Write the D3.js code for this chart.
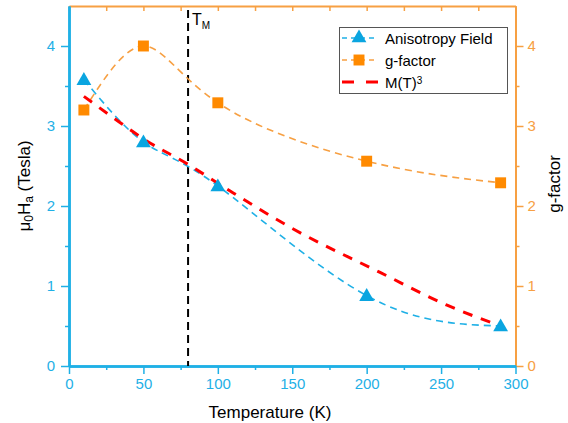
<!DOCTYPE html>
<html>
<head>
<meta charset="utf-8">
<script src="https://cdn.jsdelivr.net/npm/d3@7"></script>
<style>
  html, body { margin: 0; padding: 0; background: #fff; }
  text { font-family: "Liberation Sans", Arial, sans-serif; }
</style>
</head>
<body>
<svg id="chart" width="568" height="423"></svg>
<script>
// Measured data
const temps = [10, 50, 100, 200, 290];
const anisotropyField = [3.58, 2.80, 2.25, 0.88, 0.50];
const gFactor = [3.20, 4.00, 3.29, 2.56, 2.29];

// M(T)^3 curve, scaled to the field axis
const mTemps = [10, 30, 50, 80, 108, 150, 209, 254, 290];
const mCubed = [3.37, 3.10, 2.84, 2.52, 2.19, 1.72, 1.17, 0.76, 0.50];

const transitionTemp = 80;
const xTicks = [0, 50, 100, 150, 200, 250, 300];
const yTicks = [0, 1, 2, 3, 4];

const blue = "#1fb0e6";
const orange = "#f7a043";
const orangeMarker = "#ff8a00";
const red = "#ff0000";

const svg = d3.select("#chart");
const pLeft = 69, pRight = 515.5, pTop = 6, pBottom = 366;

const x = d3.scaleLinear().domain([0, 300]).range([pLeft, pRight]);
const yL = d3.scaleLinear().domain([0, 4.5]).range([pBottom, pTop]);
const yR = d3.scaleLinear().domain([0, 4.5]).range([pBottom, pTop]);

function styleAxis(g, color, width) {
  g.select(".domain").attr("stroke", color).attr("stroke-width", width);
  g.selectAll(".tick line").attr("stroke", color).attr("stroke-width", 1.5);
  g.selectAll(".tick text").attr("fill", color).style("font-size", "15px")
    .style("font-family", "'Liberation Sans', Arial, sans-serif");
}

// minor ticks
const xMinor = d3.range(25, 300, 50);
const yMinor = d3.range(0.5, 4.5, 1);

// top axis (orange, inward ticks)
const gTop = svg.append("g").attr("transform", `translate(0,${pTop})`)
  .call(d3.axisBottom(x).tickValues(d3.range(0, 301, 25)).tickSize(5).tickFormat("").tickSizeOuter(0));
styleAxis(gTop, orange, 2);

// right axis (orange)
const gRminor = svg.append("g").attr("transform", `translate(${pRight},0)`)
  .call(d3.axisRight(yR).tickValues(yMinor).tickSize(4).tickFormat("").tickSizeOuter(0));
styleAxis(gRminor, orange, 2);
const gR = svg.append("g").attr("transform", `translate(${pRight},0)`)
  .call(d3.axisRight(yR).tickValues(yTicks).tickSize(8).tickPadding(4).tickFormat(d3.format("d")).tickSizeOuter(0));
styleAxis(gR, orange, 2);

// bottom axis (blue)
const gBminor = svg.append("g").attr("transform", `translate(0,${pBottom})`)
  .call(d3.axisBottom(x).tickValues(xMinor).tickSize(4).tickFormat("").tickSizeOuter(0));
styleAxis(gBminor, blue, 2.5);
const gB = svg.append("g").attr("transform", `translate(0,${pBottom})`)
  .call(d3.axisBottom(x).tickValues(xTicks).tickSize(8).tickPadding(4).tickSizeOuter(0));
styleAxis(gB, blue, 2.5);

// left axis (blue)
const gLminor = svg.append("g").attr("transform", `translate(${pLeft},0)`)
  .call(d3.axisLeft(yL).tickValues(yMinor).tickSize(4).tickFormat("").tickSizeOuter(0));
styleAxis(gLminor, blue, 2.5);
const gL = svg.append("g").attr("transform", `translate(${pLeft},0)`)
  .call(d3.axisLeft(yL).tickValues(yTicks).tickSize(8).tickPadding(6).tickFormat(d3.format("d")).tickSizeOuter(0));
styleAxis(gL, blue, 2.5);

// axis titles
svg.append("text").attr("x", 270).attr("y", 418).attr("text-anchor", "middle")
  .style("font-size", "17px").attr("fill", "#000").text("Temperature (K)");

const yTitle = svg.append("text")
  .attr("transform", `translate(30,${186}) rotate(-90)`)
  .attr("text-anchor", "middle").style("font-size", "17px").attr("fill", "#000");
yTitle.append("tspan").text("μ");
yTitle.append("tspan").attr("baseline-shift", "-25%").style("font-size", "12px").text("0");
yTitle.append("tspan").text("H");
yTitle.append("tspan").attr("baseline-shift", "-25%").style("font-size", "12px").text("a");
yTitle.append("tspan").text(" (Tesla)");

svg.append("text")
  .attr("transform", `translate(560,${184}) rotate(-90)`)
  .attr("text-anchor", "middle").style("font-size", "17px").attr("fill", "#000").text("g-factor");

// transition temperature marker
svg.append("line")
  .attr("x1", x(transitionTemp)).attr("x2", x(transitionTemp))
  .attr("y1", pTop + 4).attr("y2", pBottom)
  .attr("stroke", "#000").attr("stroke-width", 2).attr("stroke-dasharray", "8,5");
const tm = svg.append("text").attr("x", x(transitionTemp) + 4).attr("y", 25)
  .style("font-size", "16px").attr("fill", "#000");
tm.append("tspan").text("T");
tm.append("tspan").attr("baseline-shift", "-40%").style("font-size", "10px").text("M");

// curves
const lineGen = (ys, scale, curve) => d3.line()
  .x((d, i) => x(d))
  .y((d, i) => scale(ys[i]))
  .curve(curve);

svg.append("path").datum(temps)
  .attr("d", lineGen(gFactor, yR, d3.curveNatural))
  .attr("fill", "none").attr("stroke", orange).attr("stroke-width", 1.6)
  .attr("stroke-dasharray", "7,5");

svg.append("path").datum(temps)
  .attr("d", lineGen(anisotropyField, yL, d3.curveNatural))
  .attr("fill", "none").attr("stroke", blue).attr("stroke-width", 1.6)
  .attr("stroke-dasharray", "7,5");

svg.append("path").datum(mTemps)
  .attr("d", lineGen(mCubed, yL, d3.curveMonotoneX))
  .attr("fill", "none").attr("stroke", red).attr("stroke-width", 3)
  .attr("stroke-dasharray", "10,9");

// markers
const tri = d3.symbol().type(d3.symbolTriangle).size(95);
const sq = d3.symbol().type(d3.symbolSquare).size(120);

svg.append("g").selectAll("path").data(temps).join("path")
  .attr("d", sq)
  .attr("transform", (d, i) => `translate(${x(d)},${yR(gFactor[i])})`)
  .attr("fill", orangeMarker);

svg.append("g").selectAll("path").data(temps).join("path")
  .attr("d", tri)
  .attr("transform", (d, i) => `translate(${x(d)},${yL(anisotropyField[i]) + 1})`)
  .attr("fill", "#0aa5e0");

// legend
const lg = svg.append("g");
lg.append("rect").attr("x", 339.5).attr("y", 27.5).attr("width", 168).attr("height", 66)
  .attr("fill", "#fff").attr("stroke", "#555").attr("stroke-width", 1);

const legendItems = [
  { label: "Anisotropy Field", color: blue, marker: "tri", y: 38 },
  { label: "g-factor", color: orange, marker: "sq", y: 60 },
  { label: "M(T)", color: red, marker: null, y: 82 }
];
legendItems.forEach(it => {
  if (it.marker) {
    lg.append("line").attr("x1", 342).attr("x2", 377).attr("y1", it.y).attr("y2", it.y)
      .attr("stroke", it.color).attr("stroke-width", 1.6).attr("stroke-dasharray", "5,4");
    lg.append("path")
      .attr("d", it.marker === "tri" ? tri : sq)
      .attr("transform", `translate(359,${it.y})`)
      .attr("fill", it.marker === "tri" ? "#0aa5e0" : orangeMarker);
  } else {
    lg.append("line").attr("x1", 342).attr("x2", 378).attr("y1", it.y).attr("y2", it.y)
      .attr("stroke", it.color).attr("stroke-width", 3).attr("stroke-dasharray", "12,12");
  }
  const t = lg.append("text").attr("x", 385).attr("y", it.y + 5.5)
    .style("font-size", "15px").attr("fill", "#000").text(it.label);
  if (!it.marker) {
    t.append("tspan").attr("baseline-shift", "40%").style("font-size", "10px").text("3");
  }
});
</script>
</body>
</html>
